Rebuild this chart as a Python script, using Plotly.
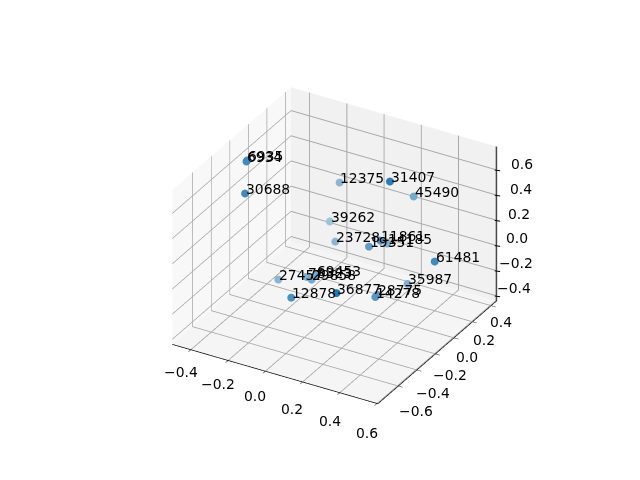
import plotly.graph_objects as go

labels = ["6934","6935","30688","12375","31407","45490","39262","23728","19351","11861","14185",
          "61481","35987","28775","14278","36877","12878","27457","78323","29858","69453"]
x_vals = [-.362,-.370,-.321,-.072,.297,.314,-.186,-.117,.144,.208,.166,.522,.271,.282,.301,.259,.010,-.254,-.143,-.072,-.084]
y_vals = [-.298,-.274,-.395,.124,-.074,.148,.247,.168,.007,.003,.159,-.043,.168,-.179,-.239,-.574,-.562,-.171,-.088,-.178,-.107]
z_vals = [.739,.729,.564,.426,.718,.465,-.010,-.090,.084,.161,.021,.159,-.260,-.120,-.092,.135,-.015,-.234,-.219,-.152,-.169]
alpha_vals = [.85,.8,.85,.5,.95,.6,.4,.5,.7,.75,.55,.85,.55,.7,.75,1,.8,.5,.55,.6,.6]

x_range = [-.5,.605]
y_range = [-.82,.46]
z_range = [-.44,.785]
x_ticks = [-.4,-.2,0,.2,.4,.6]
y_ticks = [-.6,-.4,-.2,0,.2,.4]
z_ticks = [-.4,-.2,0,.2,.4,.6]
R = 2.0
FONT = dict(family="DejaVu Sans", size=13.9, color="black")

def fmt(t):
    return ("\u2212" if t<0 else "")+f"{abs(t):.1f}"

def shade(a):
    bg=(245,245,245); c=(31,119,180)
    return "rgb(%d,%d,%d)"%tuple(round(a*c[i]+(1-a)*bg[i]) for i in range(3))

def ax(rng, bg, tv):
    return dict(range=rng, tickvals=tv, ticktext=[fmt(t) for t in tv], showticklabels=False,
                showbackground=True, backgroundcolor=bg, gridcolor="#a8a8a8", gridwidth=2,
                showline=True, linecolor="black", linewidth=1.5, ticks="outside", ticklen=5, tickcolor="black", tickwidth=1,
                zeroline=False, showspikes=False, title=dict(text=""))

fig = go.Figure()
fig.add_trace(go.Scatter3d(
    x=x_vals, y=y_vals, z=z_vals, mode="markers",
    marker=dict(size=4.6, color=[shade(a) for a in alpha_vals], line=dict(width=0)),
    hoverinfo="skip"))
fig.add_trace(go.Scatter3d(
    x=[x_range[1]]*2, y=[y_range[1]]*2, z=z_range, mode="lines",
    line=dict(color="black", width=1.5), hoverinfo="skip"))

notes = [dict(x=a,y=b,z=c,text=t,showarrow=False,xanchor="left",yanchor="bottom",xshift=-1,yshift=-5.5,font=FONT)
         for a,b,c,t in zip(x_vals,y_vals,z_vals,labels)]
notes += [dict(x=x_range[1],y=y_range[1],z=t,text=fmt(t),showarrow=False,xanchor="center",yanchor="middle",
               xshift=20.8+8*t,yshift=7.2-2*t,font=FONT) for t in z_ticks]
notes += [dict(x=x_range[1],y=y_range[1],z=t,text="",showarrow=True,arrowhead=0,arrowwidth=1,arrowcolor="black",
               ax=7,ay=1,xshift=-2,standoff=0) for t in z_ticks]
notes += [dict(x=t,y=y_range[0],z=z_range[0],text=fmt(t),showarrow=False,xanchor="center",yanchor="middle",
               xshift=-10,yshift=-(25+8*t),font=FONT) for t in x_ticks]
notes += [dict(x=x_range[1],y=t,z=z_range[0],text=fmt(t),showarrow=False,xanchor="center",yanchor="middle",
               xshift=13-8*t,yshift=-(19.5-9*t),font=FONT) for t in y_ticks]

zaxis = ax(z_range,"#f5f5f5",z_ticks)
zaxis.update(ticks="", showline=False)
fig.update_layout(
    width=640, height=480, margin=dict(l=0,r=0,t=0,b=0), showlegend=False, paper_bgcolor="white",
    scene=dict(
        domain=dict(x=[0.02,1],y=[0.01,1]),
        aspectmode="manual", aspectratio=dict(x=1,y=1,z=.75),
        xaxis=ax(x_range,"#f8f8f8",x_ticks), yaxis=ax(y_range,"#f1f1f1",y_ticks), zaxis=zaxis,
        annotations=notes,
        camera=dict(eye=dict(x=.433*R,y=-.75*R,z=.5*R), up=dict(x=0,y=0,z=1), center=dict(x=0,y=0,z=0),
                    projection=dict(type="orthographic")),
    ))
fig.write_html("out.html")
